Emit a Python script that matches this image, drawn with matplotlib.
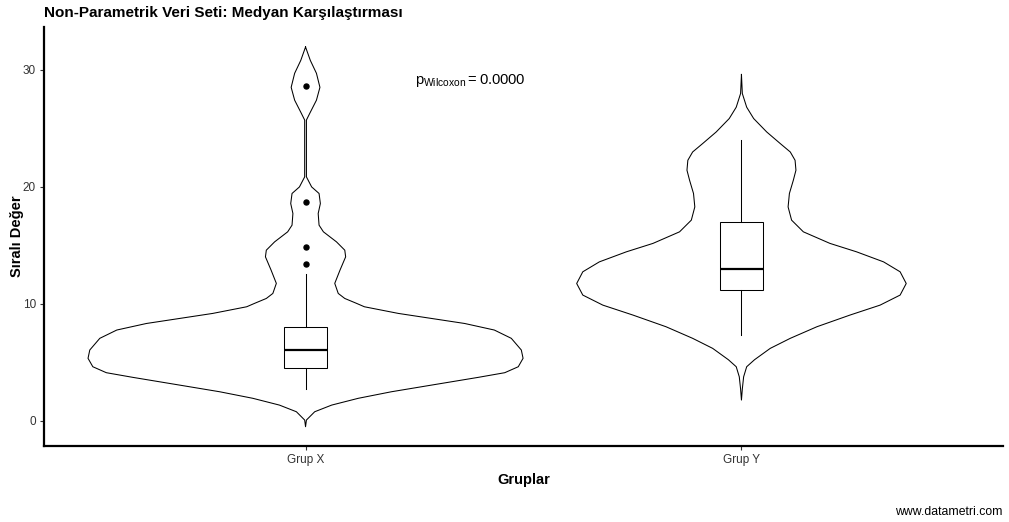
import matplotlib
matplotlib.use("Agg")
import numpy as np
import matplotlib.pyplot as plt
from matplotlib import font_manager

# ------------------------------------------
# DATA
# ------------------------------------------
groups = ["Grup X", "Grup Y"]
positions = [1, 2]

# violin outline: value levels and half-widths (x units)
violin_x_y = [31.95, 30.8, 29.7, 28.5, 27.4, 26.3, 25.7, 21.69, 20.84, 19.98, 19.42,
              18.56, 17.71, 16.71, 16.14, 15.28, 14.57, 14.0, 12.86, 11.73, 10.87,
              10.44, 10.02, 9.73, 9.16, 8.73, 8.3, 7.74, 7.03, 6.03, 5.32, 4.6, 4.09,
              3.69, 3.03, 2.46, 1.9, 1.32, 0.75, 0.04, -0.53]
violin_x_w = [0.000, 0.011, 0.025, 0.033, 0.025, 0.010, 0.002, 0.002, 0.002, 0.014, 0.031,
              0.034, 0.029, 0.031, 0.041, 0.071, 0.090, 0.092, 0.079, 0.067, 0.075,
              0.090, 0.117, 0.135, 0.213, 0.289, 0.365, 0.433, 0.472, 0.495, 0.499, 0.488, 0.457,
              0.396, 0.289, 0.197, 0.121, 0.060, 0.021, 0.002, 0.000]

violin_y_y = [29.6, 27.97, 26.8, 25.83, 24.68, 23.69, 22.97, 22.26, 21.41, 20.55, 19.42,
              18.27, 17.14, 16.14, 15.15, 14.43, 13.57, 12.72, 11.72, 10.73, 9.87,
              9.02, 8.02, 7.03, 6.17, 5.2, 4.6, 3.74, 2.7, 1.75]
violin_y_w = [0.000, 0.002, 0.012, 0.028, 0.058, 0.089, 0.112, 0.123, 0.125, 0.119, 0.110,
              0.107, 0.115, 0.142, 0.203, 0.264, 0.326, 0.364, 0.378, 0.364, 0.318,
              0.249, 0.173, 0.112, 0.066, 0.030, 0.012, 0.005, 0.002, 0.000]

# box statistics
q1 = [4.46, 11.15]
med = [6.03, 12.95]
q3 = [7.99, 16.94]
whislo = [2.69, 7.30]
whishi = [12.5, 23.97]
outliers_x = [13.43, 14.8, 18.65, 28.6]
outliers_y = []

p_text = r"$p_{\mathrm{Wilcoxon}} = 0.0000$"

# ------------------------------------------
# FONTS
# ------------------------------------------
available = {f.name for f in font_manager.fontManager.ttflist}
family = "Liberation Sans" if "Liberation Sans" in available else "DejaVu Sans"
plt.rcParams["font.family"] = [family, "DejaVu Sans"]
plt.rcParams["mathtext.fontset"] = "custom"
plt.rcParams["mathtext.rm"] = family
plt.rcParams["mathtext.it"] = family
plt.rcParams["mathtext.bf"] = family + ":bold"

# ------------------------------------------
# PLOT
# ------------------------------------------
fig = plt.figure(figsize=(10.09, 5.22), dpi=100)
ax = fig.add_axes([44 / 1009, 76 / 522, 959 / 1009, 419 / 522])

violins = [(violin_x_y, violin_x_w), (violin_y_y, violin_y_w)]
for pos, (vy, vw) in zip(positions, violins):
    vy = np.array(vy)
    vw = np.array(vw)
    ax.fill_betweenx(vy, pos - vw, pos + vw, color="white", zorder=1)
    xs = np.concatenate([pos - vw, (pos + vw)[::-1], [pos - vw[0]]])
    ys = np.concatenate([vy, vy[::-1], [vy[0]]])
    ax.plot(xs, ys, color="black", lw=0.75, solid_joinstyle="round", zorder=2)

stats = []
for i in range(2):
    stats.append(dict(q1=q1[i], med=med[i], q3=q3[i], whislo=whislo[i],
                      whishi=whishi[i], fliers=[outliers_x, outliers_y][i]))

ax.bxp(stats, positions=positions, widths=0.1, showcaps=False, patch_artist=True,
       boxprops=dict(facecolor="white", edgecolor="black", lw=0.75),
       whiskerprops=dict(color="black", lw=0.75),
       medianprops=dict(color="black", lw=1.6),
       flierprops=dict(marker="o", markerfacecolor="black", markeredgecolor="black",
                       markersize=3.6),
       zorder=3)

ax.set_xlim(0.4, 2.6)
ax.set_ylim(-2.18, 33.66)
ax.set_xticks(positions)
ax.set_xticklabels(groups)
ax.set_yticks([0, 10, 20, 30])

for side in ["top", "right"]:
    ax.spines[side].set_visible(False)
for side in ["left", "bottom"]:
    ax.spines[side].set_linewidth(1.6)
    ax.spines[side].set_color("black")
ax.tick_params(axis="both", length=2.8, width=0.8, color="#333333",
               labelsize=8.5, labelcolor="#333333", pad=3)

ax.set_xlabel("Gruplar", fontsize=10.5, fontweight="bold", labelpad=5)
ax.set_ylabel("Sıralı Değer", fontsize=10.5, fontweight="bold", labelpad=-1)

ax.text(1.25, 29.1, p_text, fontsize=10.6, ha="left", va="center")

fig.text(44 / 1009, 1 - 13 / 522, "Non-Parametrik Veri Seti: Medyan Karşılaştırması",
         fontsize=11, fontweight="bold", ha="left", va="center")
fig.text(1003 / 1009, 1 - 512 / 522, "www.datametri.com", fontsize=8.8,
         ha="right", va="center")

fig.savefig("out.png", dpi=100)
